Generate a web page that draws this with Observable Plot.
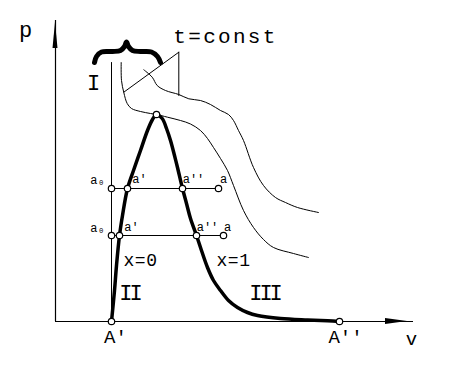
<!DOCTYPE html>
<html>
<head>
<meta charset="utf-8">
<script src="https://cdn.jsdelivr.net/npm/d3@7"></script>
<script src="https://cdn.jsdelivr.net/npm/@observablehq/plot@0.6"></script>
<style>
  html, body { margin: 0; padding: 0; background: #fff; }
  svg { display: block; }
</style>
</head>
<body>
<div id="chart"></div>
<script>
// p–v diagram (arbitrary units: v to the right, p upward)
const saturation = [ // boundary curve x=0 (left) and x=1 (right)
  [56,0],[59,31],[61,56],[64,86],[67,106],[72,133],[78,151],[85,171],[92,191],[97,202],[101,207],
  [106.7,203],[111,193],[115,181],[119,166],[122,154],[127,133],[131,118],[135,103],[141,86],
  [145,74],[152,54],[158,41],[165,31],[173,21],[182,14],[192,9],[202,6],[225,3],[252,1.5],[272,0.7],[284,0]
];
const isothermCrit = [
  [65.7,259],[66,241],[68.3,229],[71.7,218],[76,213],[85,210],[95,208],[101,207],[112,204.3],
  [125,201],[135,197.5],[145,191],[152,183],[158,174],[165,163],[172,151],[178,136],[188,111],
  [198,94],[208,82],[218,74],[238,68],[253,64]
];
const isothermHigh = [
  [88.3,251.7],[96.7,244.3],[101.7,236],[110,231],[123.3,227],[133.3,222.7],[145,221],[155,217],
  [165,211],[173,207],[178,201],[183,191],[188,181],[198,154],[208,136],[220,124],[230,119],[242,114],[263,109]
];
const brace = [
  [39,259],[41,265],[46,269.5],[57,270],[65,271],[69,275],[71,279.5],[73,275],[77,271],
  [85,270],[96,269.5],[102,265],[105,259]
];
const regionIBoundary = [[56,0],[56,259]];
const pointerLines = [[[123.3,269.3],[68.3,229.3]], [[123.3,269.3],[123.3,226]]];
const tieLines = [[[56,133],[163,133]], [[56,86],[168,86]]];
const points = [
  [56,0],[284,0],[101,207],
  [56,133],[72,133],[127,133],[163,133],
  [56,86],[64,86],[141,86],[168,86]
];
const pointLabels = [
  {v:42,p:141,t:"a\u2080"},{v:84,p:142,t:"a'"},{v:138,p:142,t:"a''"},{v:168,p:142,t:"a"},
  {v:42,p:93,t:"a\u2080"},{v:76,p:94,t:"a'"},{v:152,p:94,t:"a''"},{v:172,p:94,t:"a"}
];
const bigLabels = [
  {v:-30,p:292,t:"p",s:22,ls:0},
  {v:170,p:285,t:"t=const",s:21,ls:2.3},
  {v:38,p:239,t:"I",s:22,ls:0},
  {v:74,p:29,t:"II",s:22,ls:-3},
  {v:209,p:29,t:"III",s:22,ls:-3},
  {v:85,p:61,t:"x=0",s:18,ls:0.5},
  {v:178,p:61,t:"x=1",s:18,ls:0.5},
  {v:60,p:-15,t:"A'",s:19,ls:0},
  {v:290,p:-15,t:"A''",s:19,ls:0},
  {v:356,p:-17,t:"v",s:19,ls:0}
];
const xArrow = [{v:330,lo:-3,hi:3},{v:352,lo:0,hi:0}];
const yArrow = [{p:273,lo:-2.5,hi:2.5},{p:299,lo:0,hi:0}];

const font = "Liberation Mono";
const chart = Plot.plot({
  width: 456,
  height: 371,
  style: {background: "#fff", color: "#000"},
  x: {domain: [0, 357], range: [55, 412], axis: null},
  y: {domain: [0, 300], range: [321, 21], axis: null},
  marks: [
    Plot.ruleY([0], {x1: 0, x2: 358, stroke: "#000", strokeWidth: 1.2}),
    Plot.ruleX([0], {y1: 0, y2: 301, stroke: "#000", strokeWidth: 1.2}),
    Plot.areaY(xArrow, {x: "v", y1: "lo", y2: "hi", fill: "#000"}),
    Plot.areaX(yArrow, {y: "p", x1: "lo", x2: "hi", fill: "#000"}),
    Plot.line(regionIBoundary, {stroke: "#000", strokeWidth: 1}),
    ...pointerLines.map(l => Plot.line(l, {stroke: "#000", strokeWidth: 1})),
    ...tieLines.map(l => Plot.line(l, {stroke: "#000", strokeWidth: 1})),
    Plot.line(isothermCrit, {curve: "catmull-rom", stroke: "#000", strokeWidth: 1}),
    Plot.line(isothermHigh, {curve: "catmull-rom", stroke: "#000", strokeWidth: 1}),
    Plot.line(saturation, {curve: "catmull-rom", stroke: "#000", strokeWidth: 3.5}),
    Plot.line(brace, {curve: "catmull-rom", stroke: "#000", strokeWidth: 5}),
    Plot.dot(points, {r: 3.2, fill: "#fff", stroke: "#000", strokeWidth: 1.2}),
    Plot.text(pointLabels, {x: "v", y: "p", text: "t", fontSize: 12, fontFamily: font, fill: "#000"}),
    ...bigLabels.map(d => Plot.text([d], {x: "v", y: "p", text: "t", fontSize: d.s, fontFamily: font, fill: "#000"}))
  ]
});
// letter spacing for the larger labels
d3.select(chart).selectAll("text").each(function() {
  const lab = bigLabels.find(b => b.t === this.textContent);
  if (lab && lab.ls) d3.select(this).attr("letter-spacing", lab.ls);
});
document.getElementById("chart").appendChild(chart);
</script>
</body>
</html>
